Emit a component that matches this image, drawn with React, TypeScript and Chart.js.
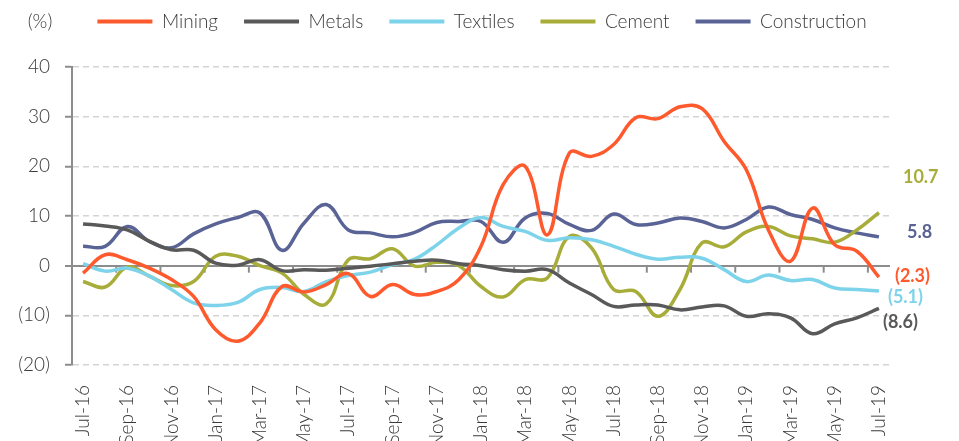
import React, { useEffect, useRef } from 'react';
import { Chart, registerables } from 'chart.js';
Chart.register(...registerables);

const months: string[] = [
  'Jul-16','Aug-16','Sep-16','Oct-16','Nov-16','Dec-16','Jan-17','Feb-17','Mar-17','Apr-17','May-17','Jun-17',
  'Jul-17','Aug-17','Sep-17','Oct-17','Nov-17','Dec-17','Jan-18','Feb-18','Mar-18','Apr-18','May-18','Jun-18',
  'Jul-18','Aug-18','Sep-18','Oct-18','Nov-18','Dec-18','Jan-19','Feb-19','Mar-19','Apr-19','May-19','Jun-19','Jul-19'
];

const mining: number[] = [-1.5, 2.2, 1.2, -0.5, -2.8, -6.2, -12.9, -15.2, -11.5, -4.2, -5.3, -3.8, -1.6, -6.2, -3.8, -5.8, -5.2, -2.8, 3.9, 16.3, 20.0, 6.2, 22.7, 22.0, 24.4, 29.8, 29.6, 32.0, 31.6, 25.0, 19.3, 7.2, 0.9, 11.6, 4.2, 2.9, -2.3];
const metals: number[] = [8.4, 8.0, 7.2, 4.9, 3.2, 3.1, 0.5, 0.1, 1.2, -1.0, -0.8, -0.9, -0.5, -0.1, 0.4, 0.9, 1.1, 0.4, 0.0, -0.8, -1.1, -0.8, -3.5, -5.8, -8.2, -7.9, -7.9, -8.9, -8.3, -8.1, -10.2, -9.7, -10.5, -13.7, -11.7, -10.5, -8.6];
const textiles: number[] = [0.4, -1.1, -0.5, -2.1, -4.8, -7.5, -8.0, -7.4, -4.8, -4.4, -5.2, -3.2, -2.0, -1.3, 0.2, 1.3, 4.2, 7.6, 9.7, 7.9, 6.9, 5.1, 5.6, 5.2, 3.9, 2.3, 1.3, 1.7, 1.5, -0.8, -3.2, -1.9, -3.0, -2.8, -4.5, -4.8, -5.1];
const cement: number[] = [-3.2, -4.3, -0.3, -2.1, -4.0, -3.2, 1.9, 1.9, 0.0, -1.5, -5.8, -7.7, 1.2, 1.4, 3.4, -0.1, 0.7, 0.0, -4.2, -6.3, -2.8, -2.5, 5.9, 3.6, -4.8, -5.2, -10.2, -4.8, 4.6, 3.8, 6.8, 7.9, 6.0, 5.4, 4.7, 7.2, 10.7];
const construction: number[] = [3.9, 3.9, 7.9, 4.9, 3.6, 6.4, 8.4, 9.7, 10.6, 3.1, 8.6, 12.3, 7.2, 6.6, 5.8, 6.7, 8.7, 8.9, 8.9, 4.7, 9.6, 10.5, 8.3, 7.1, 10.4, 8.3, 8.6, 9.6, 8.9, 7.6, 9.3, 11.8, 10.3, 9.3, 7.6, 6.6, 5.8];

const seriesNames: string[] = ['Mining', 'Metals', 'Textiles', 'Cement', 'Construction'];
const seriesValues: number[][] = [mining, metals, textiles, cement, construction];
const seriesColors: string[] = ['#FF5A2D', '#595959', '#7DD3EA', '#A7AD38', '#5A6395'];
// end-label offsets relative to the last point (style only)
const endLabelOffsets: [number, number][] = [[16, -1], [4, 14], [9, 6], [24, -35], [28, -5]];

const yTicks: number[] = [-20, -10, 0, 10, 20, 30, 40];

const FONT = 'Lato, "Open Sans", sans-serif';
const GRAY = '#8c8c8c';
const TEXT = '#3a3a3a';

const fmt = (v: number) => (v < 0 ? `(${Math.abs(v).toFixed(1)})` : v.toFixed(1));

export default function App() {
  const ref = useRef<HTMLCanvasElement>(null);
  useEffect(() => {
    const legendSpacer = {
      id: 'legendSpacer',
      beforeInit(chart: any) {
        const orig = chart.legend.fit;
        chart.legend.fit = function () {
          orig.call(this);
          this.height = 81;
        };
      },
      afterLayout(chart: any) {
        chart.legend.left += 33;
        chart.legend.right += 33;
      },
    };
    const decorations = {
      id: 'decorations',
      beforeDatasetsDraw(chart: any) {
        const { ctx, scales } = chart;
        const xs = scales.x, ys = scales.y;
        const y0 = ys.getPixelForValue(0);
        ctx.save();
        ctx.strokeStyle = GRAY;
        ctx.lineWidth = 2;
        for (let i = 1; i < months.length - 1; i += 2) {
          const px = (xs.getPixelForValue(i) + xs.getPixelForValue(i + 1)) / 2;
          ctx.beginPath();
          ctx.moveTo(px, y0);
          ctx.lineTo(px, y0 + 7);
          ctx.stroke();
        }
        ctx.restore();
      },
      afterDatasetsDraw(chart: any) {
        const { ctx } = chart;
        ctx.save();
        ctx.font = `bold 18px ${FONT}`;
        ctx.textAlign = 'left';
        ctx.textBaseline = 'middle';
        seriesValues.forEach((vals, d) => {
          const meta = chart.getDatasetMeta(d);
          const pt = meta.data[vals.length - 1];
          const [dx, dy] = endLabelOffsets[d];
          ctx.fillStyle = seriesColors[d];
          ctx.fillText(fmt(vals[vals.length - 1]), pt.x + dx, pt.y + dy);
        });
        ctx.font = `300 19px ${FONT}`;
        ctx.fillStyle = TEXT;
        ctx.textAlign = 'center';
        ctx.fillText('(%)', 32, 14);
        ctx.restore();
      },
    };

    const chart = new Chart(ref.current!, {
      type: 'line',
      data: {
        labels: months,
        datasets: seriesNames.map((name, i) => ({
          label: name,
          data: seriesValues[i],
          borderColor: seriesColors[i],
          backgroundColor: seriesColors[i],
          borderWidth: 3.5,
          pointRadius: 0,
          tension: 0.4,
          fill: false,
        })),
      },
      options: {
        animation: false,
        responsive: true,
        maintainAspectRatio: false,
        layout: { padding: { top: -22, right: 61, left: 0, bottom: 0 } },
        plugins: {
          tooltip: { enabled: false },
          legend: {
            position: 'top',
            align: 'center',
            labels: {
              boxWidth: 55,
              boxHeight: 4,
              padding: 26,
              color: TEXT,
              font: { family: FONT, size: 19, weight: '300' },
              generateLabels: (c: any) =>
                c.data.datasets.map((ds: any, i: number) => ({
                  text: ds.label,
                  fillStyle: ds.borderColor,
                  strokeStyle: ds.borderColor,
                  lineWidth: 0,
                  hidden: false,
                  datasetIndex: i,
                  fontColor: TEXT,
                })),
            },
          },
        },
        scales: {
          x: {
            offset: true,
            grid: { display: false },
            border: { display: false },
            ticks: {
              autoSkip: false,
              maxRotation: 90,
              minRotation: 90,
              padding: 12,
              color: TEXT,
              font: { family: FONT, size: 19, weight: '300' },
              callback: (_v: any, idx: number) => (idx % 2 === 0 ? months[idx] : ''),
            },
            afterFit: (s: any) => { s.height = 76; },
          },
          y: {
            min: -20,
            max: 40,
            afterBuildTicks: (s: any) => { s.ticks = yTicks.map((v) => ({ value: v })); },
            grid: {
              color: (c: any) => (c.tick && c.tick.value === 0 ? GRAY : '#d4d4d4'),
              lineWidth: (c: any) => (c.tick && c.tick.value === 0 ? 2 : 1.5),
              drawTicks: true,
              tickLength: 7,
              tickColor: GRAY,
              tickWidth: 2,
              tickBorderDash: [],
            },
            border: {
              display: true,
              color: GRAY,
              width: 2,
              dash: (c: any) => (c.tick && c.tick.value !== 0 ? [6, 4] : []),
            },
            ticks: {
              padding: 15,
              color: TEXT,
              font: { family: FONT, size: 19, weight: '300' },
              callback: (v: any) => (Number(v) < 0 ? `(${Math.abs(Number(v))})` : `${v}`),
            },
            afterFit: (s: any) => { s.width = 64; },
          },
        },
      },
      plugins: [legendSpacer, decorations],
    } as any);
    return () => chart.destroy();
  }, []);

  return (
    <div style={{ width: 943, height: 433, position: 'relative' }}>
      <canvas ref={ref} />
    </div>
  );
}
